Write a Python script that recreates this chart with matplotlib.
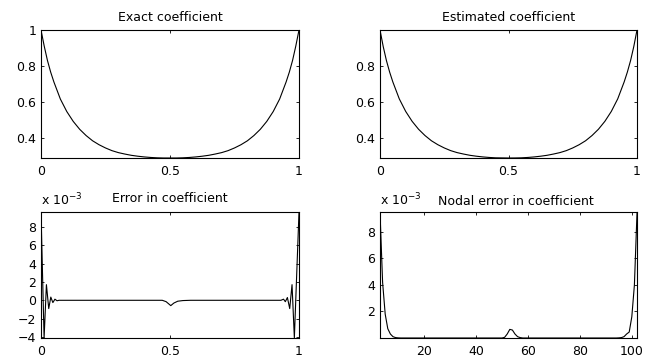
import numpy as np
import matplotlib
matplotlib.use("Agg")
import matplotlib.pyplot as plt

plt.rcParams['font.family'] = ['DejaVu Sans']
plt.rcParams['font.size'] = 9
FS = 9

# coefficient curves
x_coef = [0.0, 0.0125, 0.025, 0.0375, 0.05, 0.075, 0.1, 0.125, 0.15, 0.175, 0.2, 0.225,
          0.25, 0.275, 0.3, 0.325, 0.35, 0.375, 0.4, 0.425, 0.45, 0.475, 0.5,
          0.525, 0.55, 0.575, 0.6, 0.625, 0.65, 0.675, 0.7, 0.725, 0.75, 0.775,
          0.8, 0.825, 0.85, 0.875, 0.9, 0.925, 0.95, 0.9625, 0.975, 0.9875, 1.0]
exact_coef = [1.000, 0.910, 0.830, 0.765, 0.710, 0.615, 0.545, 0.490, 0.446, 0.411, 0.382, 0.360,
              0.342, 0.327, 0.316, 0.308, 0.301, 0.296, 0.292, 0.289, 0.287, 0.286, 0.286,
              0.286, 0.287, 0.289, 0.292, 0.296, 0.301, 0.308, 0.316, 0.327, 0.342, 0.360,
              0.382, 0.411, 0.446, 0.490, 0.545, 0.615, 0.710, 0.765, 0.830, 0.910, 1.000]
est_coef = [0.998, 0.906, 0.828, 0.764, 0.709, 0.615, 0.545, 0.490, 0.446, 0.411, 0.382, 0.360,
            0.342, 0.327, 0.316, 0.308, 0.301, 0.296, 0.292, 0.289, 0.287, 0.2865, 0.286,
            0.2862, 0.287, 0.289, 0.292, 0.296, 0.301, 0.308, 0.316, 0.327, 0.342, 0.360,
            0.382, 0.411, 0.446, 0.490, 0.545, 0.615, 0.709, 0.764, 0.828, 0.906, 0.998]

# error in coefficient (units of 1e-3)
x_err = [0.0, 0.012, 0.021, 0.030, 0.038, 0.046, 0.054, 0.062, 0.07, 0.47, 0.485, 0.503,
         0.515, 0.53, 0.55, 0.58, 0.93, 0.94, 0.947, 0.955, 0.964, 0.973, 0.982, 1.0]
err_e3 = [9.6, -4.1, 1.7, -0.9, 0.35, -0.25, 0.12, -0.05, 0.0, 0.0, -0.15, -0.58,
          -0.3, -0.1, -0.03, 0.0, 0.0, 0.12, -0.15, 0.3, -0.9, 1.7, -4.1, 9.6]

# nodal error (units of 1e-3)
nodes = list(range(3, 103))
nodal_e3 = [9.5, 4.2, 1.8, 0.7, 0.3, 0.1, 0.03, 0.01, 0.0, 0.0,
            0.0, 0.0, 0.0, 0.0, 0.0, 0.0, 0.0, 0.0, 0.0, 0.0,
            0.0, 0.0, 0.0, 0.0, 0.0, 0.0, 0.0, 0.0, 0.0, 0.0,
            0.0, 0.0, 0.0, 0.0, 0.0, 0.0, 0.0, 0.0, 0.0, 0.0,
            0.0, 0.0, 0.0, 0.0, 0.0, 0.0, 0.0, 0.0, 0.05, 0.3,
            0.65, 0.6, 0.3, 0.1, 0.03, 0.0, 0.0, 0.0, 0.0, 0.0,
            0.0, 0.0, 0.0, 0.0, 0.0, 0.0, 0.0, 0.0, 0.0, 0.0,
            0.0, 0.0, 0.0, 0.0, 0.0, 0.0, 0.0, 0.0, 0.0, 0.0,
            0.0, 0.0, 0.0, 0.0, 0.0, 0.0, 0.0, 0.0, 0.0, 0.0,
            0.0, 0.0, 0.01, 0.03, 0.1, 0.3, 0.45, 1.6, 4.0, 9.4]

fig = plt.figure(figsize=(6.51, 3.59), dpi=100)
W, H = 651.0, 359.0


def make_ax(l, t, r, b):
    ax = fig.add_axes([l / W, 1 - b / H, (r - l) / W, (b - t) / H])
    ax.tick_params(direction='in', top=True, right=True, length=2.5, width=0.6,
                   labelsize=FS)
    ax.tick_params(axis='x', pad=5)
    ax.tick_params(axis='y', pad=3.5)
    for s in ax.spines.values():
        s.set_linewidth(0.8)
    return ax


def put_title(ax, txt, px_above, xc=0.5):
    h = ax.get_position().height * H
    ax.text(xc, 1 + px_above / h, txt, transform=ax.transAxes, ha='center',
            va='baseline', fontsize=FS)


def put_exp(ax):
    h = ax.get_position().height * H
    ax.text(0.0, 1 + 7 / h, r'x 10$^{-3}$', transform=ax.transAxes, ha='left',
            va='baseline', fontsize=FS)


ax1 = make_ax(41, 30, 299, 158)
ax1.plot(x_coef, exact_coef, color='k', lw=0.8)
ax1.set_xlim(0, 1)
ax1.set_ylim(min(exact_coef), max(exact_coef))
ax1.set_xticks([0, 0.5, 1])
ax1.set_xticklabels(['0', '0.5', '1'])
ax1.set_yticks([0.4, 0.6, 0.8, 1.0])
ax1.set_yticklabels(['0.4', '0.6', '0.8', '1'])
put_title(ax1, 'Exact coefficient', 9)

ax2 = make_ax(380, 30, 637, 158)
ax2.plot(x_coef, est_coef, color='k', lw=0.8)
ax2.set_xlim(0, 1)
ax2.set_ylim(min(est_coef), max(est_coef))
ax2.set_xticks([0, 0.5, 1])
ax2.set_xticklabels(['0', '0.5', '1'])
ax2.set_yticks([0.4, 0.6, 0.8])
put_title(ax2, 'Estimated coefficient', 9)

ax3 = make_ax(41, 212, 299, 338)
ax3.plot(x_err, err_e3, color='k', lw=0.8)
ax3.set_xlim(0, 1)
ax3.set_ylim(min(err_e3), max(err_e3))
ax3.set_xticks([0, 0.5, 1])
ax3.set_xticklabels(['0', '0.5', '1'])
ax3.set_yticks([-4, -2, 0, 2, 4, 6, 8])
put_title(ax3, 'Error in coefficient', 10)
put_exp(ax3)

ax4 = make_ax(380, 212, 637, 338)
ax4.plot(nodes, nodal_e3, color='k', lw=0.8)
ax4.set_xlim(nodes[0], nodes[-1])
ax4.set_ylim(0.0, 9.5)
ax4.set_xticks([20, 40, 60, 80, 100])
ax4.set_yticks([2, 4, 6, 8])
put_exp(ax4)
put_title(ax4, 'Nodal error in coefficient', 7, xc=0.528)

fig.savefig('out.png', dpi=100)
